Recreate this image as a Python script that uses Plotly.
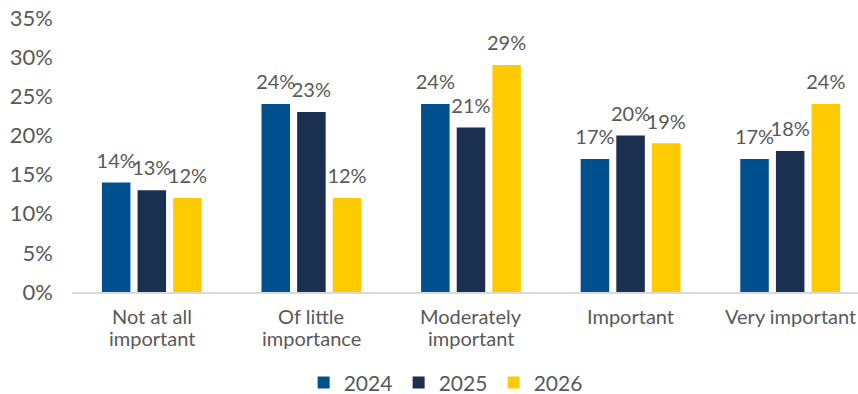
import plotly.graph_objects as go

categories = ["Not at all<br>important", "Of little<br>importance", "Moderately<br>important",
              "Important", "Very important"]
years = ["2024", "2025", "2026"]
values_2024 = [14, 24, 24, 17, 17]
values_2025 = [13, 23, 21, 20, 18]
values_2026 = [12, 12, 29, 19, 24]
y_ticks = [0, 5, 10, 15, 20, 25, 30, 35]

series = [values_2024, values_2025, values_2026]
colors = ["#00508F", "#1B2F50", "#FFCA00"]

FONT = "Lato"
GREY = "#595959"
GAP = 0.33
xs = list(range(len(categories)))

fig = go.Figure()
for name, vals, col in zip(years, series, colors):
    fig.add_trace(go.Bar(
        x=xs, y=vals, name=name, offsetgroup=name,
        marker=dict(color=col, line=dict(width=0)),
        hoverinfo="skip",
    ))
# value labels, grouped the same way as the bars
for name, vals in zip(years, series):
    fig.add_trace(go.Scatter(
        x=xs, y=vals, offsetgroup=name, mode="markers+text",
        marker=dict(size=14, opacity=0),
        text=[f"{v}%" for v in vals], textposition="top center",
        textfont=dict(family=FONT, size=20, color=GREY),
        cliponaxis=False, showlegend=False, hoverinfo="skip",
    ))

# category labels, one annotation per line for tight line spacing
for i, cat in enumerate(categories):
    for k, line in enumerate(cat.split("<br>")):
        fig.add_annotation(
            x=i, xref="x", y=0, yref="paper", yanchor="middle",
            yshift=-(24 + 22 * k), text=line, showarrow=False,
            font=dict(family=FONT, size=20, color=GREY),
        )

fig.update_layout(
    width=858, height=394,
    margin=dict(l=72, r=0, t=18, b=102, autoexpand=False),
    paper_bgcolor="white", plot_bgcolor="white",
    barmode="group", bargap=GAP, bargroupgap=0.2,
    scattermode="group", scattergap=GAP,
    font=dict(family=FONT, color=GREY),
    showlegend=True,
    legend=dict(orientation="h", x=0.476, xanchor="center", y=-0.257, yanchor="top",
                font=dict(family=FONT, size=21, color=GREY),
                itemwidth=30, entrywidth=50, entrywidthmode="pixels"),
)
fig.update_xaxes(
    range=[-0.5, 4.425], showticklabels=False, showgrid=False, zeroline=False,
    showline=True, linecolor="#D9D9D9", linewidth=2, ticks="",
)
fig.update_yaxes(
    range=[0, 35], tickvals=y_ticks, ticktext=[f"{t}%" for t in y_ticks],
    showgrid=False, zeroline=False, showline=False, ticks="",
    tickfont=dict(family=FONT, size=22, color=GREY), ticklabelstandoff=18,
)

fig.write_html("out.html")
